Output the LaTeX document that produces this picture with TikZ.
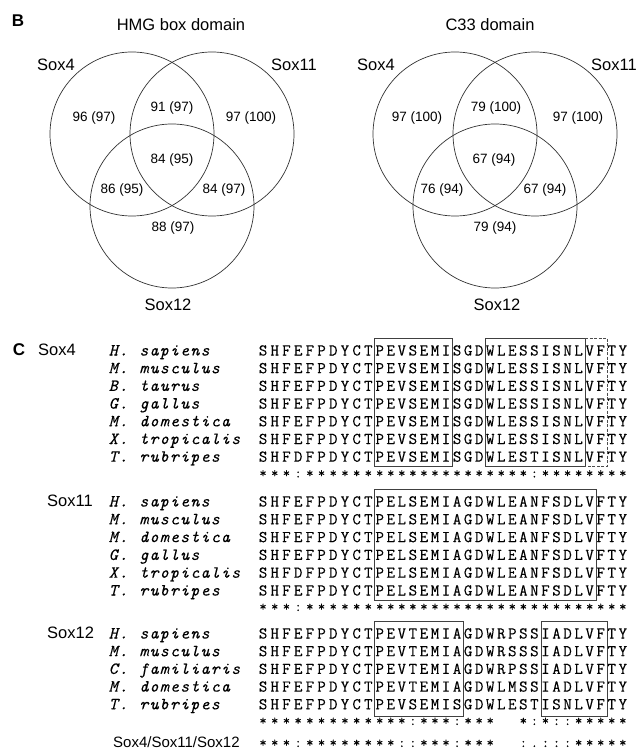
\documentclass[tikz,border=0pt]{standalone}
\usepackage{fontspec}
\setmainfont{Liberation Sans}
\setmonofont{Latin Modern Mono}
\newfontfamily\seqfont{Latin Modern Mono}[FakeBold=0.25]
\ExplSyntaxOn
\dim_new:N \l_fixpitch_dim
\NewDocumentCommand\fixrow{mm}{\dim_set:Nn \l_fixpitch_dim {#1}\tl_map_inline:nn {#2} {\makebox[\l_fixpitch_dim][c]{##1}}}
\ExplSyntaxOff
\tikzset{
  lab/.style={font=\fontsize{16.5}{18}\selectfont, inner sep=0pt},
  panel/.style={font=\bfseries\fontsize{17}{19}\selectfont, inner sep=0pt},
  num/.style={font=\fontsize{13.5}{15}\selectfont, inner sep=0pt},
  seq/.style={font=\seqfont\fontsize{16.5}{18}\selectfont, inner sep=0pt, anchor=base west},
  cons/.style={font=\seqfont\fontsize{14}{16}\selectfont, inner sep=0pt, anchor=base west},
  sp/.style={font=\seqfont\itshape\fontsize{17}{19}\selectfont, inner sep=0pt, anchor=base west},
  venn/.style={circle, draw=black!80, line width=0.7pt, minimum size=164pt, inner sep=0pt},
  alnbox/.style={draw=black!75, line width=0.9pt},
  dbox/.style={draw=black!70, line width=0.8pt, dash pattern=on 3pt off 1.5pt},
}
\newcommand\alrow[5]{%
  \node[sp] (#1n) at (108,#2+5.5) {\fixrow{10.2pt}{#3}};
  \node[seq] (#1a) at (257,#2+5.5) {\fixrow{11.7pt}{#4}};
  \node[seq] (#1b) at (374,#2+5.5) {\fixrow{11.05pt}{#5}};
}
\begin{document}
\begin{tikzpicture}[x=1pt,y=-1pt]
\useasboundingbox (0,0) rectangle (639,751);
\fill[white] (0,0) rectangle (639,751);

% ---------- Panel B ----------
\node[panel] (B) at (18,21) {B};
\node[lab] (t1) at (181,25) {HMG box domain};
\node[lab] (t2) at (490,25) {C33 domain};

% left Venn
\node[venn] (L4) at (132,134) {};
\node[venn] (L11) at (212,134) {};
\node[venn] (L12) at (172,206) {};
\node[lab] (L4l) at (56,65) {Sox4};
\node[lab] (L11l) at (294,65) {Sox11};
\node[lab] (L12l) at (168,305) {Sox12};
\node[num] (l1) at (94,118) {96 (97)};
\node[num] (l2) at (172,108) {91 (97)};
\node[num] (l3) at (251,118) {97 (100)};
\node[num] (l4) at (172,160) {84 (95)};
\node[num] (l5) at (122,190) {86 (95)};
\node[num] (l6) at (224,190) {84 (97)};
\node[num] (l7) at (173,228) {88 (97)};

% right Venn
\node[venn] (R4) at (455,134) {};
\node[venn] (R11) at (535,134) {};
\node[venn] (R12) at (495,206) {};
\node[lab] (R4l) at (376,65) {Sox4};
\node[lab] (R11l) at (614,65) {Sox11};
\node[lab] (R12l) at (497,305) {Sox12};
\node[num] (r1) at (417,118) {97 (100)};
\node[num] (r2) at (496,108) {79 (100)};
\node[num] (r3) at (578,118) {97 (100)};
\node[num] (r4) at (494,160) {67 (94)};
\node[num] (r5) at (442,190) {76 (94)};
\node[num] (r6) at (545,190) {67 (94)};
\node[num] (r7) at (495,228) {79 (94)};

% ---------- Panel C ----------
\node[panel] (C) at (19,350) {C};
\node[lab, anchor=west] (g4) at (38,350) {Sox4};
\node[lab, anchor=west] (g11) at (47,501) {Sox11};
\node[lab, anchor=west] (g12) at (47,633) {Sox12};

% Sox4 block
\alrow{a1}{350}{H.{}sapiens}{SHFEFPDYCT}{PEVSEMISGDWLESSISNLVFTY}
\alrow{a2}{367.7}{M.{}musculus}{SHFEFPDYCT}{PEVSEMISGDWLESSISNLVFTY}
\alrow{a3}{385.4}{B.{}taurus}{SHFEFPDYCT}{PEVSEMISGDWLESSISNLVFTY}
\alrow{a4}{403.1}{G.{}gallus}{SHFEFPDYCT}{PEVSEMISGDWLESSISNLVFTY}
\alrow{a5}{420.8}{M.{}domestica}{SHFEFPDYCT}{PEVSEMISGDWLESSISNLVFTY}
\alrow{a6}{438.5}{X.{}tropicalis}{SHFEFPDYCT}{PEVSEMISGDWLESSISNLVFTY}
\alrow{a7}{456.2}{T.{}rubripes}{SHFDFPDYCT}{PEVSEMISGDWLESTISNLVFTY}
\node[cons] (ac1) at (257,477.5) {\fixrow{11.7pt}{***:******}};
\node[cons] (ac2) at (374,477.5) {\fixrow{11.05pt}{**************:********}};
\draw[alnbox] (374,338) rectangle (452,466);
\draw[alnbox] (485,338) rectangle (585,466);
\draw[dbox] (585,338) -- (607,338) -- (607,466) -- (585,466);

% Sox11 block
\alrow{b1}{501}{H.{}sapiens}{SHFEFPDYCT}{PELSEMIAGDWLEANFSDLVFTY}
\alrow{b2}{518.8}{M.{}musculus}{SHFEFPDYCT}{PELSEMIAGDWLEANFSDLVFTY}
\alrow{b3}{536.6}{M.{}domestica}{SHFEFPDYCT}{PELSEMIAGDWLEANFSDLVFTY}
\alrow{b4}{554.4}{G.{}gallus}{SHFEFPDYCT}{PELSEMIAGDWLEANFSDLVFTY}
\alrow{b5}{572.2}{X.{}tropicalis}{SHFDFPDYCT}{PELSEMIAGDWLEANFSDLVFTY}
\alrow{b6}{590}{T.{}rubripes}{SHFEFPDYCT}{PELSEMIAGDWLEANFSDLVFTY}
\node[cons] (bc1) at (257,611) {\fixrow{11.7pt}{***:******}};
\node[cons] (bc2) at (374,611) {\fixrow{11.05pt}{***********************}};
\draw[alnbox] (374,489) rectangle (596,600);

% Sox12 block
\alrow{c1}{633}{H.{}sapiens}{SHFEFPDYCT}{PEVTEMIAGDWRPSSIADLVFTY}
\alrow{c2}{650.7}{M.{}musculus}{SHFEFPDYCT}{PEVTEMIAGDWRSSSIADLVFTY}
\alrow{c3}{668.4}{C.{}familiaris}{SHFEFPDYCT}{PEVTEMIAGDWRPSSIADLVFTY}
\alrow{c4}{686.1}{M.{}domestica}{SHFEFPDYCT}{PEVTEMIAGDWLMSSIADLVFTY}
\alrow{c5}{703.8}{T.{}rubripes}{SHFEFPDYCT}{PEVSEMISGDWLESTISNLVFTY}
\node[cons] (cc1) at (257,725) {\fixrow{11.7pt}{**********}};
\node[cons] (cc2) at (374,725) {\fixrow{11.05pt}{***:***:***{}{}*:*::*****}};
\draw[alnbox] (374,621) rectangle (463,716);
\draw[alnbox] (541,621) rectangle (607,716);

% all
\node[lab, anchor=base west, font=\fontsize{15}{17}\selectfont] (allL) at (113,747) {Sox4/Sox11/Sox12};
\node[cons] (dc1) at (257,747) {\fixrow{11.7pt}{***:******}};
\node[cons] (dc2) at (374,747) {\fixrow{11.05pt}{**::***:***{}{}:.:::*****}};
\end{tikzpicture}
\end{document}
